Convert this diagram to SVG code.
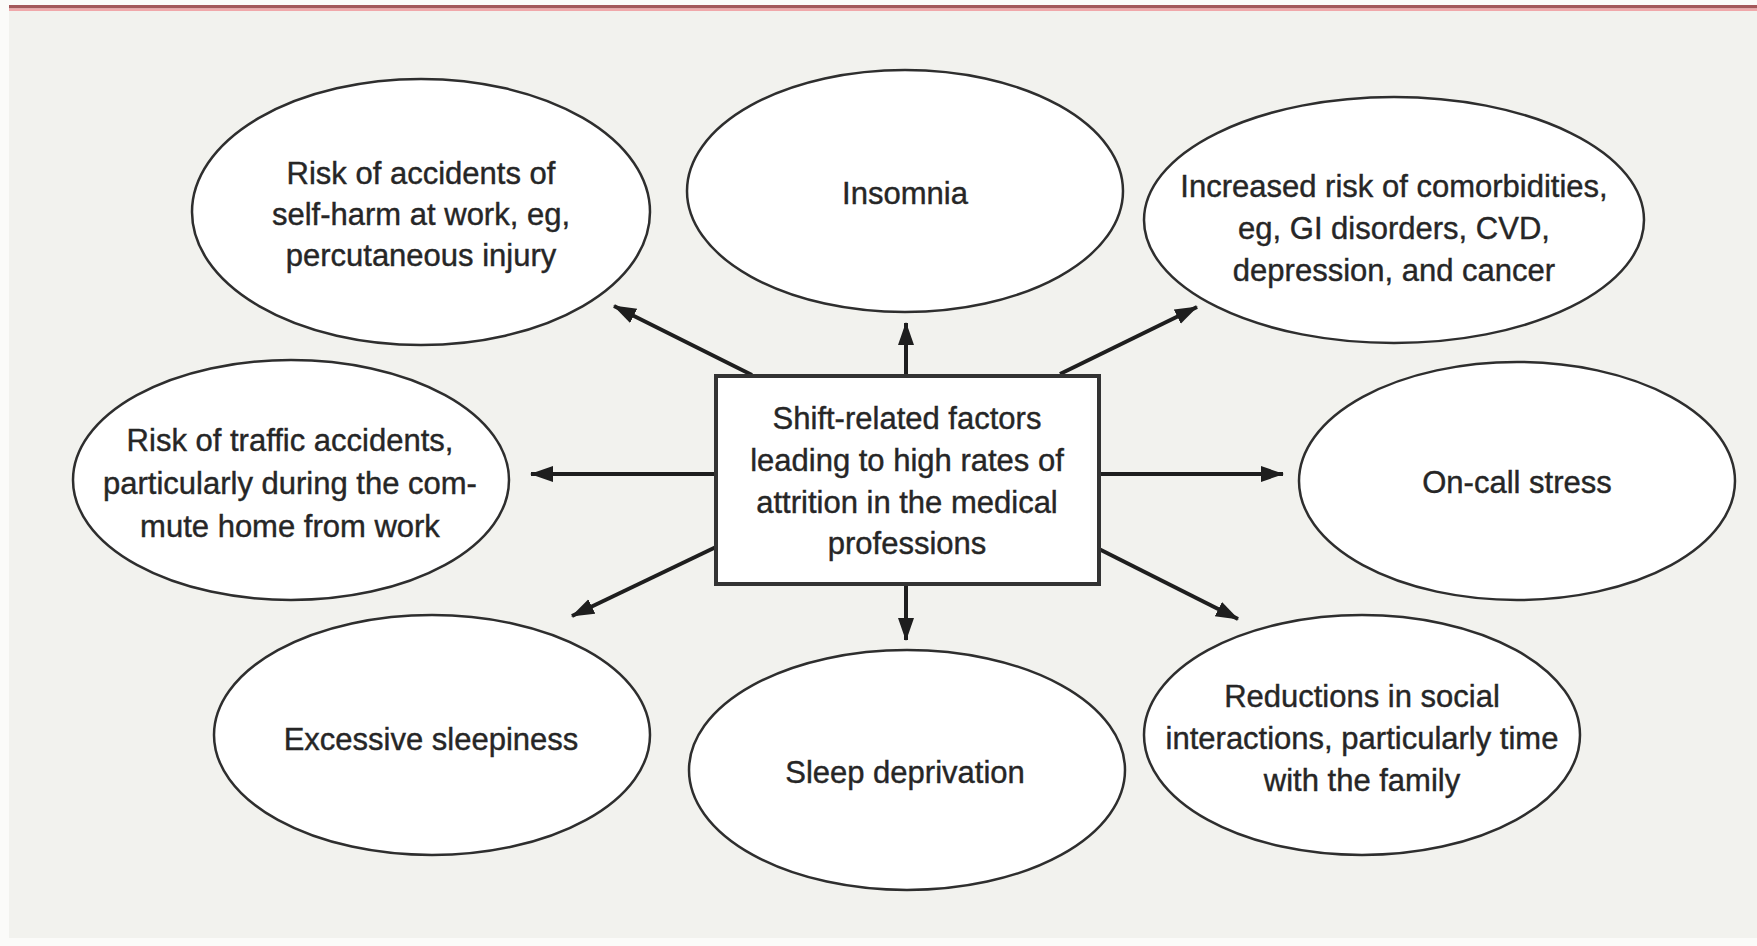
<svg xmlns="http://www.w3.org/2000/svg" width="1757" height="946" viewBox="0 0 1757 946">
<style>
.node ellipse{fill:#ffffff;stroke:#2e2e2e;stroke-width:2.5}
.node rect{fill:#ffffff;stroke:#333333;stroke-width:4}
.node text{font-family:"Liberation Sans",Arial,sans-serif;font-size:31px;fill:#262626;stroke:#262626;stroke-width:0.4;text-anchor:middle}
#connectors line{stroke:#1e1e1e;stroke-width:4;marker-end:url(#arrow)}
</style>
<defs>
<marker id="arrow" markerUnits="userSpaceOnUse" markerWidth="26" markerHeight="18" refX="22" refY="8" orient="auto">
<path d="M0,0 L23,8 L0,16 Z" fill="#1e1e1e"/>
</marker>
</defs>
<rect x="0" y="0" width="1757" height="946" fill="#fbfbf9"/>
<rect x="9" y="11" width="1748" height="927" fill="#f2f2ee"/>
<rect x="9" y="5" width="1748" height="3.5" fill="#a3585a"/>
<rect x="9" y="8.5" width="1748" height="2.5" fill="#f0a8aa"/>

<g id="connectors">
<line x1="752" y1="375" x2="614" y2="306"/>
<line x1="906" y1="376" x2="906" y2="323"/>
<line x1="1060" y1="374" x2="1197" y2="307"/>
<line x1="716" y1="474" x2="531" y2="474"/>
<line x1="1099" y1="474" x2="1283" y2="474"/>
<line x1="716" y1="547" x2="572" y2="616"/>
<line x1="906" y1="584" x2="906" y2="640"/>
<line x1="1099" y1="549" x2="1238" y2="619"/>
</g>

<g id="node-center" class="node">
<rect x="716" y="376" width="383" height="208"/>
<text x="907" y="429">Shift-related factors</text>
<text x="907" y="471">leading to high rates of</text>
<text x="907" y="513">attrition in the medical</text>
<text x="907" y="554">professions</text>
</g>

<g id="node-selfharm" class="node">
<ellipse cx="421" cy="212" rx="229" ry="133"/>
<text x="421" y="184">Risk of accidents of</text>
<text x="421" y="225">self-harm at work, eg,</text>
<text x="421" y="266">percutaneous injury</text>
</g>

<g id="node-insomnia" class="node">
<ellipse cx="905" cy="191" rx="218" ry="121"/>
<text x="905" y="204">Insomnia</text>
</g>

<g id="node-comorbidities" class="node">
<ellipse cx="1394" cy="220" rx="250" ry="123"/>
<text x="1394" y="197">Increased risk of comorbidities,</text>
<text x="1394" y="239">eg, GI disorders, CVD,</text>
<text x="1394" y="281">depression, and cancer</text>
</g>

<g id="node-traffic" class="node">
<ellipse cx="291" cy="480" rx="218" ry="120"/>
<text x="290" y="451">Risk of traffic accidents,</text>
<text x="290" y="494">particularly during the com-</text>
<text x="290" y="537">mute home from work</text>
</g>

<g id="node-oncall" class="node">
<ellipse cx="1517" cy="481" rx="218" ry="119"/>
<text x="1517" y="493">On-call stress</text>
</g>

<g id="node-sleepiness" class="node">
<ellipse cx="432" cy="735" rx="218" ry="120"/>
<text x="431" y="750">Excessive sleepiness</text>
</g>

<g id="node-deprivation" class="node">
<ellipse cx="907" cy="770" rx="218" ry="120"/>
<text x="905" y="783">Sleep deprivation</text>
</g>

<g id="node-social" class="node">
<ellipse cx="1362" cy="735" rx="218" ry="120"/>
<text x="1362" y="707">Reductions in social</text>
<text x="1362" y="749">interactions, particularly time</text>
<text x="1362" y="791">with the family</text>
</g>
</svg>
